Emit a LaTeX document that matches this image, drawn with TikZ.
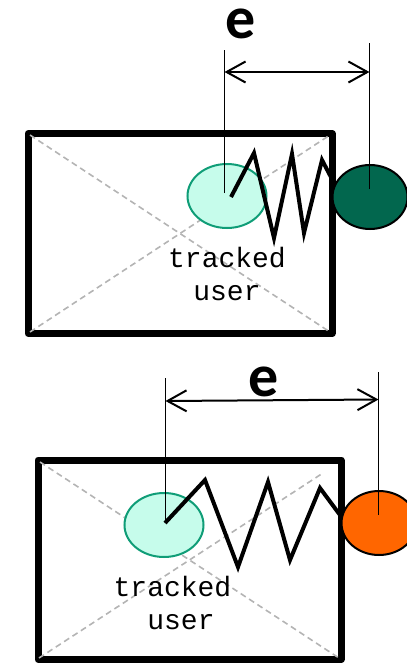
\documentclass[tikz,border=0pt]{standalone}
\usepackage{fontspec}
\setmonofont{Liberation Mono}
\newfontfamily\efont{Carlito}
\usetikzlibrary{shapes.geometric,arrows.meta}
\definecolor{lightfill}{HTML}{C6FCEB}
\definecolor{lightedge}{HTML}{0F9D77}
\definecolor{darkgreen}{HTML}{02674E}
\definecolor{orangefill}{HTML}{FF6600}
\definecolor{diaggray}{HTML}{B4B4B4}
\tikzset{
  frame/.style={line width=7pt, line join=round},
  diag/.style={diaggray, line width=1.6pt, dash pattern=on 6pt off 4pt},
  tracked/.style={ellipse, draw=lightedge, fill=lightfill, line width=2pt, minimum width=79pt, minimum height=64pt, inner sep=0pt},
  target/.style={ellipse, draw=black, line width=2pt, minimum width=75pt, minimum height=64pt, inner sep=0pt},
  guide/.style={line width=1.8pt},
  dim/.style={line width=2pt, {Straight Barb[length=19pt,width=21pt]}-{Straight Barb[length=19pt,width=21pt]}},
  spring/.style={line width=4pt, line join=miter},
  lbl/.style={font=\fontsize{28}{33}\selectfont\ttfamily, inner sep=0pt, anchor=base},
  elbl/.style={font=\fontsize{60}{60}\selectfont\efont\bfseries, inner sep=0pt, anchor=base, text height=28pt, text depth=0pt}
}
\begin{document}
\begin{tikzpicture}[x=1pt,y=-1pt]
\useasboundingbox (0,0) rectangle (407,665);
% ---------- top panel ----------
\draw[frame] (28,133.5) rectangle (332,333.5);
\draw[diag] (30,135) -- (330,332);
\draw[diag] (30,332) -- (330,135);
\node[tracked] (t1) at (227,196) {};
\node[target, fill=darkgreen] (g1) at (370,197) {};
\coordinate (t1top) at (224.5,50);
\coordinate (g1top) at (369.5,43);
\coordinate (t1c) at (224.5,193);
\coordinate (g1c) at (369.5,189);
\draw[guide] (t1c) -- (t1top);
\draw[guide] (g1c) -- (g1top);
\coordinate (a1l) at (224.5,72);
\coordinate (a1r) at (369.5,72);
\draw[dim] (a1l) -- (a1r);
\node[elbl] (e1) at (241,38) {e};
\coordinate (s1a) at (231,197);
\coordinate (s1b) at (333,181);
\draw[spring] (s1a) -- (254,153) -- (274,238) -- (292,154) -- (304,233) -- (322,160) -- (s1b);
\node[lbl] (l1a) at (227,267) {tracked};
\node[lbl] (l1b) at (227,300) {user};
% ---------- bottom panel ----------
\draw[frame] (38,460) rectangle (341,659.5);
\draw[diag] (40,462) -- (339,658);
\draw[diag] (39,658) -- (323,473);
\node[tracked] (t2) at (164,525) {};
\node[target, fill=orangefill] (g2) at (379,523) {};
\coordinate (t2top) at (165.5,378);
\coordinate (g2top) at (378.5,372);
\coordinate (t2c) at (165.5,523);
\coordinate (g2c) at (378.5,515);
\draw[guide] (t2c) -- (t2top);
\draw[guide] (g2c) -- (g2top);
\coordinate (a2l) at (165.5,401);
\coordinate (a2r) at (378.5,399.5);
\draw[dim] (a2l) -- (a2r);
\node[elbl] (e2) at (264,396) {e};
\coordinate (s2a) at (165,523);
\coordinate (s2b) at (340,515);
\draw[spring] (s2a) -- (205,480) -- (238,567) -- (268,482) -- (290,560) -- (320,488) -- (s2b);
\node[lbl] (l2a) at (172.5,596) {tracked};
\node[lbl] (l2b) at (181,629) {user};
\end{tikzpicture}
\end{document}
